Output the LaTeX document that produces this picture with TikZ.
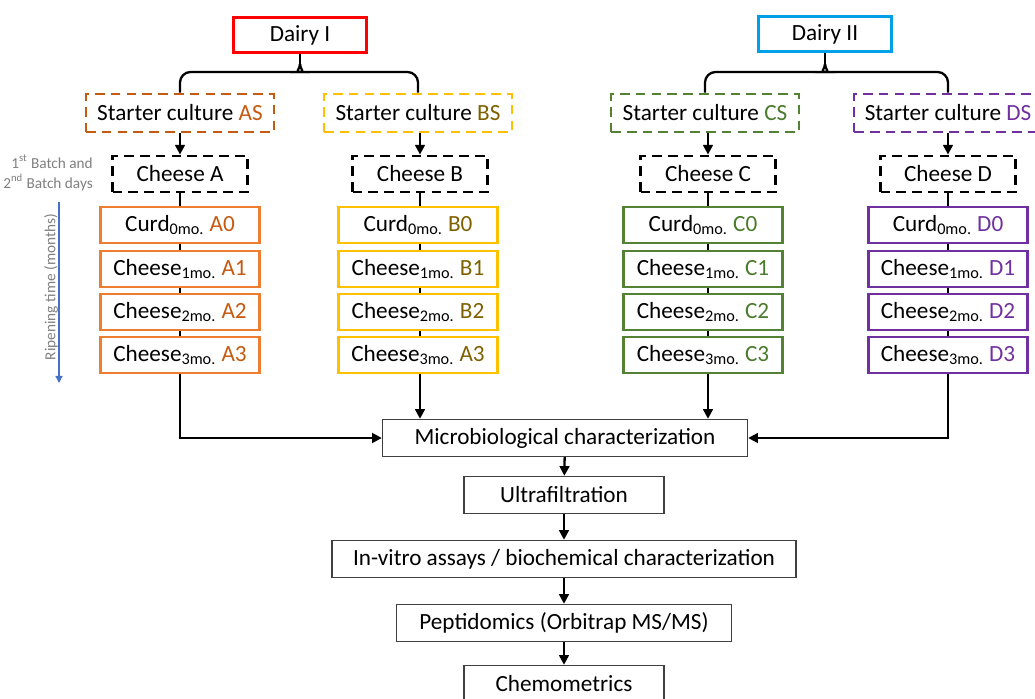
\documentclass[tikz,border=0pt]{standalone}
\usepackage{fontspec}
\setmainfont{Carlito}
\usetikzlibrary{arrows.meta}

\definecolor{redI}{HTML}{FF0000}
\definecolor{blueII}{HTML}{00A0E8}
\definecolor{frameA}{HTML}{ED7D31}
\definecolor{textA}{HTML}{C55A11}
\definecolor{frameB}{HTML}{FFC000}
\definecolor{textB}{HTML}{7F6000}
\definecolor{frameC}{HTML}{548235}
\definecolor{textC}{HTML}{4A7A2C}
\definecolor{frameD}{HTML}{7030A0}
\definecolor{textD}{HTML}{7030A0}
\definecolor{boxgray}{HTML}{404040}
\definecolor{notegray}{HTML}{7F7F7F}
\definecolor{ripeblue}{HTML}{4472C4}

\begin{document}
\begin{tikzpicture}[x=0.02cm, y=-0.02cm,
	every node/.style={font=\fontsize{13.2}{15}\selectfont},
	dairy/.style={draw, line width=1.4pt, minimum width=2.66cm, minimum height=0.7cm, inner sep=0pt},
	starter/.style={draw, dash pattern=on 5.5pt off 3.5pt, line width=1.6pt, minimum width=3.76cm, minimum height=0.76cm, inner sep=0pt},
	cheese/.style={starter, draw=black, minimum width=2.7cm, minimum height=0.72cm},
	sample/.style={draw, line width=1.6pt, minimum width=3.18cm, minimum height=0.72cm, inner sep=0pt},
	stage/.style={draw=boxgray, line width=0.8pt, minimum height=0.74cm, inner sep=0pt},
	note/.style={text=notegray, font=\fontsize{8.7}{11.3}\selectfont},
	conn/.style={line width=1.3pt},
	arr/.style={conn, -{Triangle[length=5.5pt,width=5.5pt]}}]
	\useasboundingbox (0,0) rectangle (1035,699);

	% dairies and starter cultures
	\node[dairy, draw=redI] (dairyI) at (300,35) {Dairy I};
	\node[dairy, draw=blueII] (dairyII) at (825,34) {Dairy II};
	\node[starter, draw=textA] (AS) at (180,113) {Starter culture \textcolor{textA}{AS}};
	\node[starter, draw=frameB] (BS) at (418,113) {Starter culture \textcolor{textB}{BS}};
	\node[starter, draw=frameC] (CS) at (705,113) {Starter culture \textcolor{textC}{CS}};
	\node[starter, draw=frameD] (DS) at (948,113) {Starter culture \textcolor{textD}{DS}};

	\coordinate (forkI) at (300,72);
	\coordinate (tipI) at (300,64);
	\coordinate (forkII) at (825,72);
	\coordinate (tipII) at (825,64);
	\draw[conn, rounded corners=6pt] (AS.north) |- ([xshift=-6pt]forkI) to[out=0,in=-90] (tipI);
	\draw[conn, rounded corners=6pt] (BS.north) |- ([xshift=6pt]forkI) to[out=180,in=-90] (tipI);
	\draw[conn] (tipI) -- (dairyI.south);
	\draw[conn, rounded corners=6pt] (CS.north) |- ([xshift=-6pt]forkII) to[out=0,in=-90] (tipII);
	\draw[conn, rounded corners=6pt] (DS.north) |- ([xshift=6pt]forkII) to[out=180,in=-90] (tipII);
	\draw[conn] (tipII) -- (dairyII.south);

	% cheeses
	\node[cheese] (chA) at (180,174) {Cheese A};
	\node[cheese] (chB) at (420,174) {Cheese B};
	\node[cheese] (chC) at (708,174) {Cheese C};
	\node[cheese] (chD) at (948,174) {Cheese D};
	\draw[arr] (chA.north |- AS.south) -- (chA.north);
	\draw[arr] (chB.north |- BS.south) -- (chB.north);
	\draw[arr] (chC.north |- CS.south) -- (chC.north);
	\draw[arr] (chD.north |- DS.south) -- (chD.north);

	% ripening samples
	\foreach \col/\x/\lastlab in {A/180/A3, B/418/A3, C/703/C3, D/948/D3}{
		\node[sample, draw=frame\col] (\col0) at (\x,225) {Curd\textsubscript{0mo.} \textcolor{text\col}{\col0}};
		\foreach \row/\y in {1/269, 2/312}
			\node[sample, draw=frame\col] (\col\row) at (\x,\y) {Cheese\textsubscript{\row mo.} \textcolor{text\col}{\col\row}};
		\node[sample, draw=frame\col] (\col3) at (\x,355) {Cheese\textsubscript{3mo.} \textcolor{text\col}{\lastlab}};
		\draw[conn] (ch\col.south) -- (ch\col.south |- \col0.north);
		\draw[conn] (ch\col.south |- \col0.south) -- (ch\col.south |- \col1.north);
		\draw[conn] (ch\col.south |- \col1.south) -- (ch\col.south |- \col2.north);
		\draw[conn] (ch\col.south |- \col2.south) -- (ch\col.south |- \col3.north);
	}

	% left notes
	\node[note, align=right, anchor=east] (batch) at (99,173) {1\textsuperscript{st} Batch and\\2\textsuperscript{nd} Batch days};
	\node[note, rotate=90] (ripe) at (51,287) {Ripening time (months)};
	\coordinate (ripeTop) at (59,202);
	\coordinate (ripeBot) at (59,383);
	\draw[ripeblue, line width=0.7pt, -{Triangle[length=4pt,width=4pt]}] (ripeTop) -- (ripeBot);

	% analysis workflow
	\node[stage, minimum width=7.3cm] (micro) at (565,438) {Microbiological characterization};
	\node[stage, minimum width=4cm] (ultra) at (564,495) {Ultrafiltration};
	\node[stage, minimum width=9.28cm] (invitro) at (564,559) {In-vitro assays / biochemical characterization};
	\node[stage, minimum width=6.7cm] (pepti) at (564,623) {Peptidomics (Orbitrap MS/MS)};
	\node[stage, minimum width=4cm] (chemo) at (564,684) {Chemometrics};

	\draw[arr] (chA.south |- A3.south) |- (micro.west);
	\draw[arr] (chB.south |- B3.south) -- (chB.south |- micro.north);
	\draw[arr] (chC.south |- C3.south) -- (chC.south |- micro.north);
	\draw[arr] (chD.south |- D3.south) |- (micro.east);
	\draw[arr] (micro) -- (ultra);
	\draw[arr] (ultra) -- (invitro);
	\draw[arr] (invitro) -- (pepti);
	\draw[arr] (pepti) -- (chemo);
\end{tikzpicture}
\end{document}
